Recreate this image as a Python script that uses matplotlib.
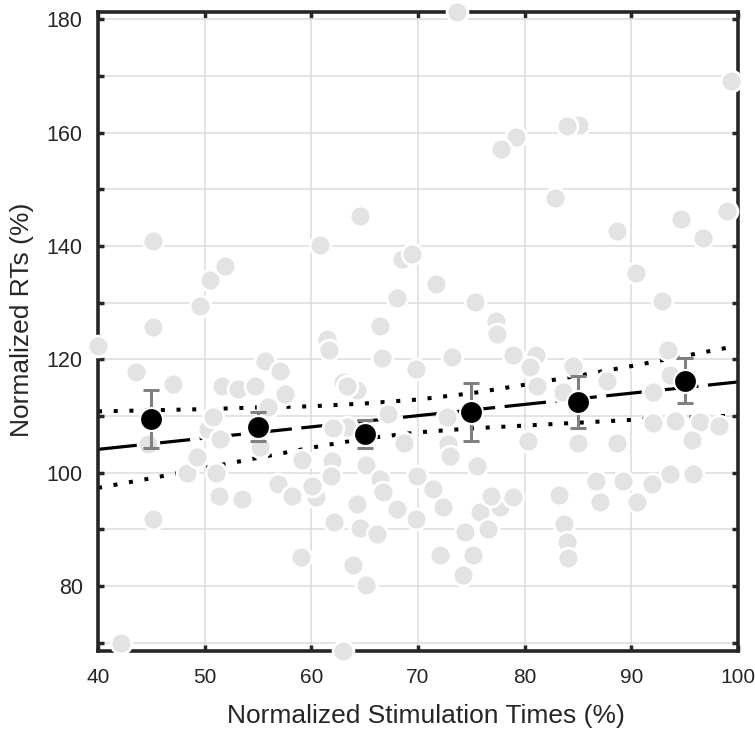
import numpy as np
import matplotlib
matplotlib.use('Agg')
import matplotlib.pyplot as plt
from matplotlib.ticker import MultipleLocator

plt.rcParams['font.family'] = ['Liberation Sans', 'DejaVu Sans']

# 单个被试的数据点 (归一化刺激时间, 归一化反应时)
stim_times = [
    40.0, 43.6, 47.0, 45.2, 45.2, 49.6, 44.7, 45.2, 48.3, 49.3, 42.2,
    50.5, 51.9, 51.6, 53.1, 54.7, 55.7, 57.1, 57.5, 55.9, 50.3, 50.8, 51.4,
    51.1, 51.3, 53.5, 55.2, 56.9, 58.2, 59.0, 59.1,
    60.8, 64.6, 68.5, 69.4, 68.0, 66.4, 61.5, 61.7, 66.6, 69.8, 63.0, 64.3,
    63.3, 67.2, 63.3, 62.0, 68.7, 61.9, 65.1, 66.4, 61.8, 69.9, 60.4, 60.1,
    64.3, 66.7, 68.0, 69.8, 62.1, 64.6, 66.2, 63.9, 65.1, 63.0,
    73.7, 71.7, 75.3, 77.3, 77.4, 79.2, 77.8, 73.2, 78.9, 72.7, 72.8, 75.5,
    71.4, 72.3, 75.8, 76.6, 77.7, 78.9, 74.4, 72.1, 75.2, 74.2, 76.8, 73.0,
    85.1, 84.0, 82.8, 88.7, 81.1, 80.5, 84.5, 81.2, 87.7, 83.6, 80.3, 85.0,
    88.7, 83.2, 83.7, 84.0, 84.1, 86.7, 87.1, 89.2,
    99.3, 99.0, 94.7, 96.7, 90.4, 92.9, 93.4, 93.6, 92.0, 92.0, 94.1, 96.4,
    98.2, 95.7, 90.5, 91.9, 93.6, 95.8,
]
rts = [
    122.3, 117.7, 115.6, 140.8, 125.7, 129.4, 105.0, 91.8, 100.0, 102.8, 69.9,
    134.0, 136.4, 115.3, 114.7, 115.3, 119.7, 117.9, 113.9, 111.6, 107.7, 109.8, 106.0,
    100.0, 95.9, 95.3, 104.5, 98.0, 95.9, 85.1, 102.2,
    140.1, 145.3, 137.7, 138.6, 130.8, 125.9, 123.6, 121.7, 120.2, 118.3, 116.0, 114.5,
    115.3, 110.3, 108.0, 107.8, 105.3, 102.0, 101.3, 98.9, 99.4, 99.4, 95.7, 97.6,
    94.5, 96.6, 93.5, 91.8, 91.3, 90.3, 89.1, 83.7, 80.2, 68.5,
    181.4, 133.3, 130.1, 126.7, 124.4, 159.2, 157.2, 120.4, 120.8, 109.8, 105.1, 101.2,
    97.1, 93.9, 93.0, 90.1, 93.9, 95.7, 89.5, 85.5, 85.5, 81.9, 95.9, 102.9,
    161.3, 161.2, 148.4, 142.6, 120.8, 118.6, 118.9, 115.3, 116.2, 114.2, 105.5, 105.3,
    105.3, 96.1, 90.9, 87.8, 85.0, 98.5, 94.8, 98.6,
    169.2, 146.1, 144.7, 141.4, 135.2, 130.3, 121.6, 117.2, 114.2, 108.8, 109.1, 109.0,
    108.2, 105.8, 94.8, 98.0, 99.7, 99.7,
]

# 各区间均值与误差
bin_centers = [45, 55, 65, 75, 85, 95]
bin_means = [109.4, 108.1, 106.8, 110.7, 112.4, 116.2]
bin_err = [5.1, 2.6, 2.5, 5.2, 4.6, 4.0]

# 回归线与置信区间
fit_x = [40, 100]
fit_y = [104.1, 116.0]
ci_x = [40, 45, 50, 55, 60, 65, 70, 75, 80, 85, 90, 95, 100]
ci_upper = [110.8, 111.0, 111.2, 111.5, 111.7, 112.2, 112.9, 114.0, 115.5, 117.1, 118.8, 120.6, 122.4]
ci_lower = [97.3, 99.0, 100.8, 102.6, 104.4, 106.0, 107.1, 107.8, 108.3, 108.8, 109.3, 109.7, 110.1]

SPINE = '#262626'
GRID = '#dcdcdc'
DOT = '#e3e3e3'
ERR = '#808080'

fig = plt.figure(figsize=(7.55, 7.31), dpi=100)
ax = fig.add_axes([98 / 755, 80 / 731, 640 / 755, 639.5 / 731])

ax.plot(ci_x, ci_upper, color='black', lw=2.9, linestyle=(0, (1, 2.9)), zorder=2)
ax.plot(ci_x, ci_lower, color='black', lw=2.9, linestyle=(0, (1, 2.9)), zorder=2)
ax.plot(fit_x, fit_y, color='black', lw=2.3, linestyle=(0, (13, 3)), zorder=2)

ax.plot(stim_times, rts, linestyle='none', marker='o', markersize=15,
        markerfacecolor=DOT, markeredgecolor='white', markeredgewidth=2,
        clip_on=False, zorder=3)

ax.errorbar(bin_centers, bin_means, yerr=bin_err, fmt='none', ecolor=ERR,
            elinewidth=2.2, capsize=5.5, capthick=2.2, zorder=4)
ax.plot(bin_centers, bin_means, linestyle='none', marker='o', markersize=16.5,
        markerfacecolor='black', markeredgecolor='white', markeredgewidth=1.5,
        zorder=5)

ax.set_xlim(40, 100)
ax.set_ylim(min(rts), max(rts))
ax.xaxis.set_major_locator(MultipleLocator(10))
ax.yaxis.set_major_locator(MultipleLocator(20))
ax.yaxis.set_minor_locator(MultipleLocator(10))

ax.set_axisbelow(True)
ax.grid(True, which='both', color=GRID, lw=1.1)
for s in ax.spines.values():
    s.set_color(SPINE)
    s.set_linewidth(2.6)
ax.tick_params(which='both', direction='in', top=True, right=True,
               length=4.5, width=2.5, color=SPINE, labelsize=15.5,
               labelcolor='#262626')
ax.tick_params(axis='x', which='both', pad=12, labelsize=15)
ax.tick_params(axis='y', which='both', pad=11)

fig.text(426 / 755, 1 - 722.7 / 731, 'Normalized Stimulation Times (%)',
         fontsize=19, color='#262626', ha='center', va='baseline')
fig.text(29 / 755, 1 - 320 / 731, 'Normalized RTs (%)', fontsize=19,
         color='#262626', ha='center', va='baseline', rotation=90,
         rotation_mode='anchor')

fig.savefig('out.png', dpi=100, facecolor='white')
